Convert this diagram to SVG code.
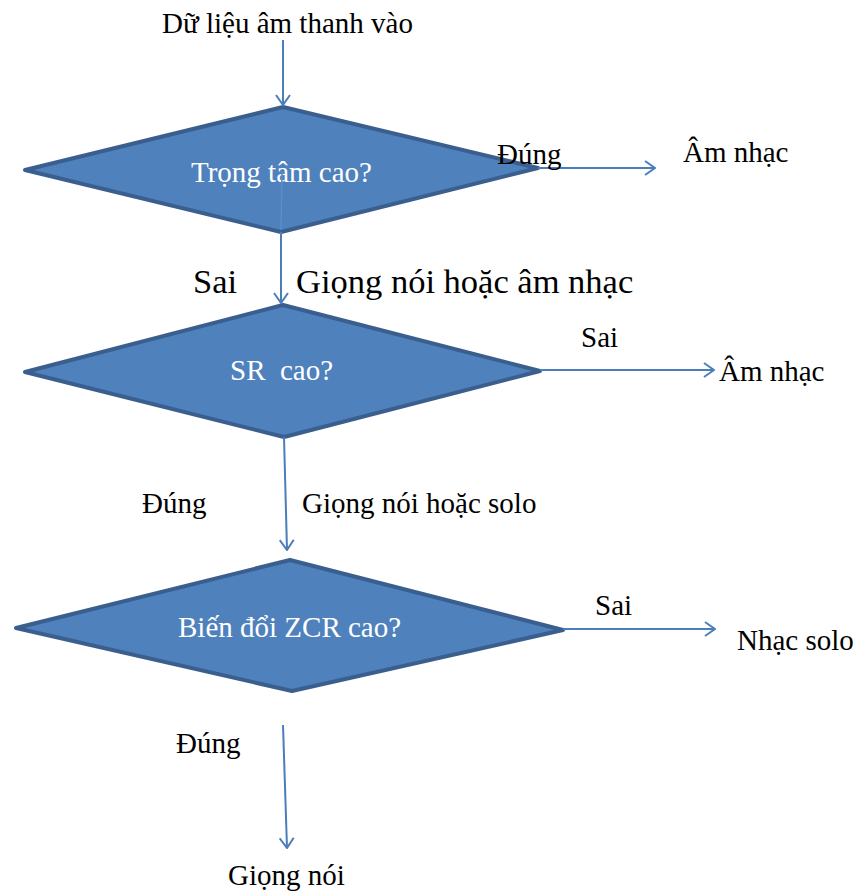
<svg xmlns="http://www.w3.org/2000/svg" width="858" height="893" viewBox="0 0 858 893">
<style>
.d{fill:#4F81BD;stroke:#3A5F8E;stroke-width:4;stroke-linejoin:round}
.c{stroke:#4A7EBB;stroke-width:2;fill:none}
text{font-family:'Liberation Serif','Times New Roman','DejaVu Serif',serif;font-size:29px;fill:#000;white-space:pre}
.w{fill:#fff}
.b{font-size:34.5px}
</style>
<defs>
<marker id="a" viewBox="0 0 12 16" refX="11" refY="8" markerWidth="12" markerHeight="16" markerUnits="userSpaceOnUse" orient="auto">
<path d="M1,1 L11,8 L1,15" fill="none" stroke="#4A7EBB" stroke-width="2"/>
</marker>
</defs>
<rect width="858" height="893" fill="#fff"/>
<g id="n0"><text x="162" y="33">Dữ liệu âm thanh vào</text></g>
<g id="d1"><polygon class="d" points="25,170 283,107 538,168 281,232"/><text class="w" x="191" y="182">Trọng tâm cao?</text><line x1="282" y1="172" x2="281" y2="230" stroke="#5B8DCB" stroke-width="1.5"/></g>
<g id="d2"><polygon class="d" points="25,372 283,305 540,371 284,437"/><text class="w" x="230" y="380" xml:space="preserve">SR  cao?</text></g>
<g id="d3"><polygon class="d" points="16,628 290,560 563,630 292,691"/><text class="w" x="178" y="637">Biến đổi ZCR cao?</text></g>
<g id="o1"><text x="683" y="162">Âm nhạc</text></g>
<g id="o2"><text x="719" y="381">Âm nhạc</text></g>
<g id="o3"><text x="737" y="650">Nhạc solo</text></g>
<g id="o4"><text x="228" y="885">Giọng nói</text></g>
<g id="connectors">
<line class="c" x1="283" y1="40" x2="283" y2="105" marker-end="url(#a)"/>
<line class="c" x1="538" y1="168" x2="655" y2="168" marker-end="url(#a)"/>
<line class="c" x1="281" y1="232" x2="281" y2="303" marker-end="url(#a)"/>
<line class="c" x1="540" y1="370" x2="714" y2="370" marker-end="url(#a)"/>
<line class="c" x1="284" y1="437" x2="287" y2="550" marker-end="url(#a)"/>
<line class="c" x1="563" y1="629" x2="715" y2="629" marker-end="url(#a)"/>
<line class="c" x1="283" y1="725" x2="287" y2="848" marker-end="url(#a)"/>
</g>
<g id="labels">
<text x="497" y="164">Đúng</text>
<text class="b" x="193" y="293">Sai</text>
<text class="b" x="296" y="293">Giọng nói hoặc âm nhạc</text>
<text x="581" y="347">Sai</text>
<text x="142" y="513">Đúng</text>
<text x="302" y="513">Giọng nói hoặc solo</text>
<text x="595" y="615">Sai</text>
<text x="176" y="753">Đúng</text>
</g>
</svg>
